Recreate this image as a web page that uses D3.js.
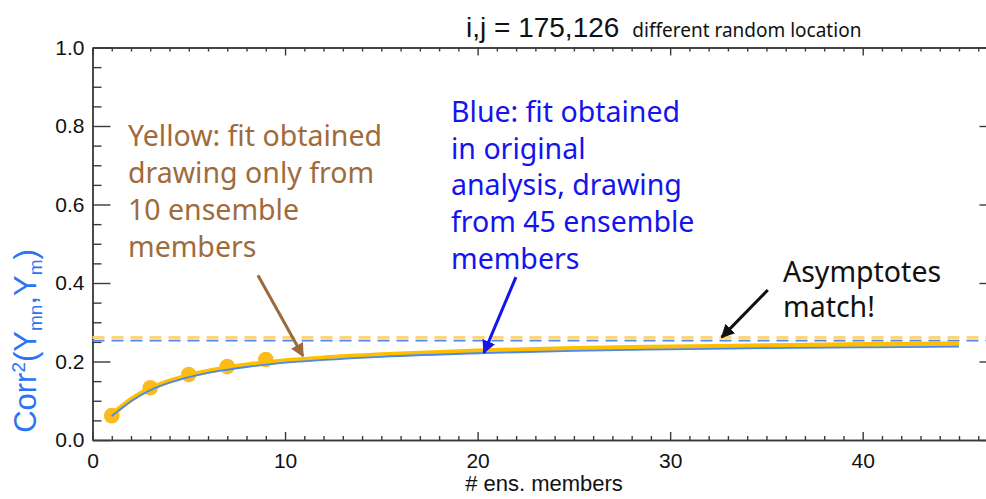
<!DOCTYPE html>
<html>
<head>
<meta charset="utf-8">
<script src="https://cdn.jsdelivr.net/npm/d3@7"></script>
<style>
  html, body { margin: 0; padding: 0; background: #fff; }
  svg { display: block; }
</style>
</head>
<body>
<div class="chart"></div>
<script>
// ensemble sizes of the sampled points and the fitted curves
var sampleMembers = [1, 3, 5, 7, 9];
var sampleCorr = [0.062, 0.133, 0.167, 0.187, 0.205];

var fitMembers = [1, 2, 3, 4, 5, 6, 7, 8, 9, 10, 12, 15, 20, 25, 30, 35, 40, 45];
var fitYellow = [0.064, 0.103, 0.131, 0.150, 0.164, 0.175, 0.184, 0.191, 0.197, 0.202, 0.209, 0.217, 0.227, 0.233, 0.237, 0.240, 0.243, 0.245];
var fitBlue = [0.061, 0.099, 0.127, 0.146, 0.160, 0.171, 0.179, 0.186, 0.192, 0.197, 0.204, 0.212, 0.221, 0.227, 0.231, 0.234, 0.236, 0.238];

var asymptoteYellow = 0.261;
var asymptoteBlue = 0.253;

var xMajor = [0, 10, 20, 30, 40];
var yMajor = [0, 0.2, 0.4, 0.6, 0.8, 1.0];

var width = 986, height = 499;
var svg = d3.select(".chart").append("svg")
	.attr("width", width)
	.attr("height", height);

var x = d3.scaleLinear().domain([0, 47]).range([92.5, 997.5]);
var y = d3.scaleLinear().domain([0, 1]).range([440, 47.5]);

var axisColor = "#3a3a3a";
var tickFont = "'Liberation Sans', Arial, sans-serif";
var noteFont = "'Noto Sans', 'Open Sans', sans-serif";

function styleAxis(g){
	g.selectAll("path, line").attr("stroke", axisColor).attr("stroke-width", 1.4);
	g.selectAll("text").attr("fill", "#111").style("font-family", tickFont);
}

var xMinor = d3.range(0, 48).filter(function(v){ return xMajor.indexOf(v) < 0; });
var yMinor = d3.range(0, 21).map(function(i){ return i * 0.05; })
	.filter(function(v){ return Math.abs(v * 5 - Math.round(v * 5)) > 1e-6; });

// bottom axis
svg.append("g").attr("transform", "translate(0," + y(0) + ")")
	.call(d3.axisBottom(x).tickValues(xMinor).tickSizeInner(-4).tickSizeOuter(0).tickFormat(""))
	.call(styleAxis);
svg.append("g").attr("transform", "translate(0," + y(0) + ")")
	.call(d3.axisBottom(x).tickValues(xMajor).tickSizeInner(-8).tickSizeOuter(0).tickPadding(13).tickFormat(d3.format("d")))
	.call(styleAxis)
	.selectAll("text").style("font-size", "21px");

// top axis
svg.append("g").attr("transform", "translate(0," + y(1) + ")")
	.call(d3.axisTop(x).tickValues(xMinor).tickSizeInner(-4).tickSizeOuter(0).tickFormat(""))
	.call(styleAxis);
svg.append("g").attr("transform", "translate(0," + y(1) + ")")
	.call(d3.axisTop(x).tickValues(xMajor).tickSizeInner(-8).tickSizeOuter(0).tickFormat(""))
	.call(styleAxis);

// left axis
svg.append("g").attr("transform", "translate(" + x(0) + ",0)")
	.call(d3.axisLeft(y).tickValues(yMinor).tickSizeInner(-9).tickSizeOuter(0).tickFormat(""))
	.call(styleAxis);
svg.append("g").attr("transform", "translate(" + x(0) + ",0)")
	.call(d3.axisLeft(y).tickValues(yMajor).tickSizeInner(-18).tickSizeOuter(0).tickPadding(8).tickFormat(d3.format(".1f")))
	.call(styleAxis)
	.selectAll("text").style("font-size", "21px");

// right axis
svg.append("g").attr("transform", "translate(" + x(47) + ",0)")
	.call(d3.axisRight(y).tickValues(yMinor).tickSizeInner(-9).tickSizeOuter(0).tickFormat(""))
	.call(styleAxis);
svg.append("g").attr("transform", "translate(" + x(47) + ",0)")
	.call(d3.axisRight(y).tickValues(yMajor).tickSizeInner(-18).tickSizeOuter(0).tickFormat(""))
	.call(styleAxis);

// asymptotes
svg.append("line")
	.attr("x1", x(0)).attr("x2", x(47))
	.attr("y1", y(asymptoteYellow)).attr("y2", y(asymptoteYellow))
	.attr("stroke", "#fdd57c").attr("stroke-width", 3)
	.attr("stroke-dasharray", "12,7");
svg.append("line")
	.attr("x1", x(0)).attr("x2", x(47))
	.attr("y1", y(asymptoteBlue)).attr("y2", y(asymptoteBlue))
	.attr("stroke", "#4d87ef").attr("stroke-width", 1.8)
	.attr("stroke-dasharray", "12,7");

// sample points
svg.selectAll("circle.sample")
	.data(sampleMembers)
	.enter().append("circle")
	.attr("class", "sample")
	.attr("cx", function(d){ return x(d); })
	.attr("cy", function(d, i){ return y(sampleCorr[i]); })
	.attr("r", 7.8)
	.attr("fill", "#fcbb1d");

// fitted curves
var line = d3.line()
	.x(function(d){ return x(d[0]); })
	.y(function(d){ return y(d[1]); })
	.curve(d3.curveMonotoneX);

svg.append("path")
	.datum(fitMembers.map(function(n, i){ return [n, fitYellow[i]]; }))
	.attr("d", line)
	.attr("fill", "none")
	.attr("stroke", "#ffbf00")
	.attr("stroke-width", 5)
	.attr("stroke-linecap", "butt");

svg.append("path")
	.datum(fitMembers.map(function(n, i){ return [n, fitBlue[i]]; }))
	.attr("d", line)
	.attr("fill", "none")
	.attr("stroke", "#4a8af0")
	.attr("stroke-width", 1.8);

// arrows
var defs = svg.append("defs");
function marker(id, color){
	defs.append("marker")
		.attr("id", id)
		.attr("viewBox", "0 0 10 10")
		.attr("refX", 9).attr("refY", 5)
		.attr("markerWidth", 4.5).attr("markerHeight", 4.5)
		.attr("markerUnits", "strokeWidth")
		.attr("orient", "auto")
		.append("path")
		.attr("d", "M0,0 L10,5 L0,10 z")
		.attr("fill", color);
}
marker("head-brown", "#9b6a3b");
marker("head-blue", "#1414ee");
marker("head-black", "#111");

function arrow(x1, y1, x2, y2, color, id){
	svg.append("line")
		.attr("x1", x(x1)).attr("y1", y(y1))
		.attr("x2", x(x2)).attr("y2", y(y2))
		.attr("stroke", color).attr("stroke-width", 3)
		.attr("marker-end", "url(#" + id + ")");
}
arrow(8.59, 0.42, 10.93, 0.214, "#9b6a3b", "head-brown");
arrow(21.99, 0.415, 20.33, 0.222, "#1414ee", "head-blue");
arrow(35.07, 0.382, 32.68, 0.262, "#111", "head-black");

// annotation texts
function block(lines, px, py, color, size, gap){
	var t = svg.append("text")
		.attr("fill", color)
		.style("font-family", noteFont)
		.style("font-size", size + "px");
	lines.forEach(function(s, i){
		t.append("tspan").attr("x", px).attr("y", py + i * gap).text(s);
	});
}
block(["Yellow: fit obtained", "drawing only from", "10 ensemble", "members"], 128, 146, "#a06b3b", 28.5, 37);
block(["Blue: fit obtained", "in original", "analysis, drawing", "from 45 ensemble", "members"], 451, 122, "#1414ee", 28.5, 36.7);
block(["Asymptotes", "match!"], 783, 282, "#111", 28.5, 35);

// title
var title = svg.append("text")
	.attr("x", 466).attr("y", 37)
	.attr("fill", "#111");
title.append("tspan")
	.style("font-family", tickFont)
	.style("font-size", "28px")
	.text("i,j = 175,126");
title.append("tspan")
	.attr("dx", 13)
	.style("font-family", noteFont)
	.style("font-size", "19px")
	.text("different random location");

// axis titles
svg.append("text")
	.attr("x", 544).attr("y", 491)
	.attr("text-anchor", "middle")
	.attr("fill", "#111")
	.style("font-family", tickFont)
	.style("font-size", "22px")
	.text("# ens. members");

var ylab = svg.append("text")
	.attr("transform", "translate(36,341) rotate(-90)")
	.attr("text-anchor", "middle")
	.attr("fill", "#2a74f5")
	.style("font-family", tickFont)
	.style("font-size", "31px");
ylab.append("tspan").text("Corr");
ylab.append("tspan").attr("dy", -11).style("font-size", "19px").text("2");
ylab.append("tspan").attr("dy", 11).text("(Y");
ylab.append("tspan").attr("dy", 6).style("font-size", "19px").text("mn");
ylab.append("tspan").attr("dy", -6).text(",Y");
ylab.append("tspan").attr("dy", 6).style("font-size", "19px").text("m");
ylab.append("tspan").attr("dy", -6).text(")");
</script>
</body>
</html>
